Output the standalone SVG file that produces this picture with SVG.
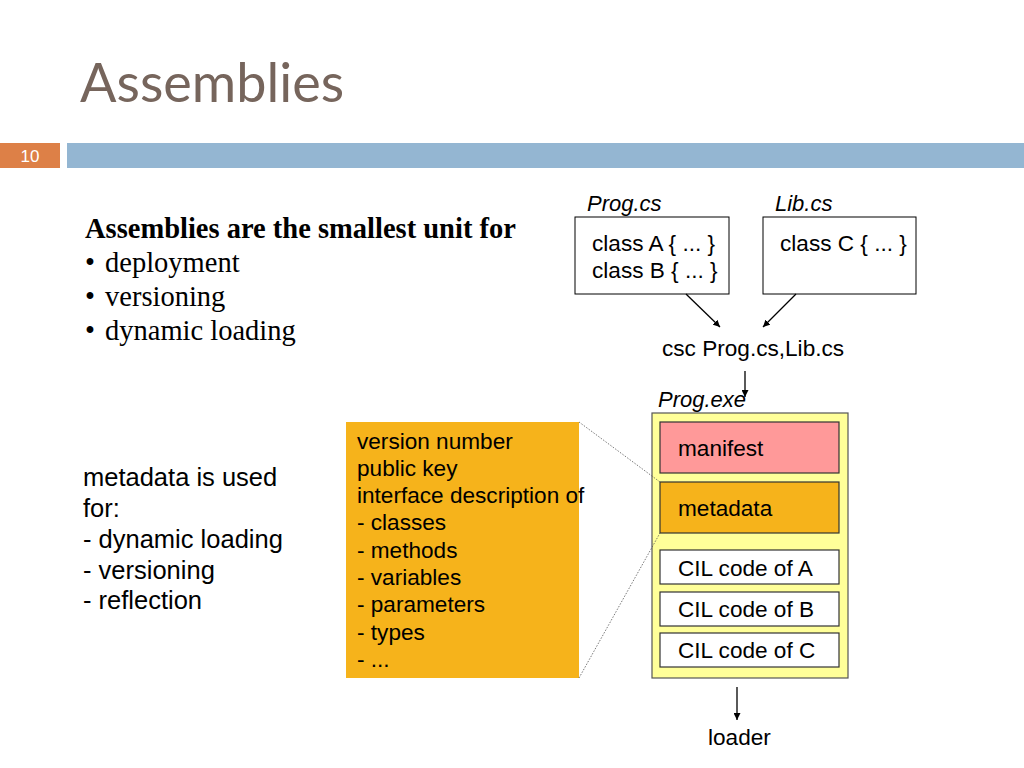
<svg xmlns="http://www.w3.org/2000/svg" width="1024" height="768" viewBox="0 0 1024 768">
<defs>
<marker id="ah" viewBox="0 0 10 10" refX="10" refY="5" markerWidth="7" markerHeight="7" orient="auto" markerUnits="userSpaceOnUse">
<path d="M0,0 L10,5 L0,10 z" fill="#000"/>
</marker>
<style>
.s{font-family:"Liberation Sans",Arial,sans-serif;font-size:22.6px;fill:#000}
.i{font-style:italic}
.serif{font-family:"Liberation Serif","Times New Roman",serif;font-size:28.5px;fill:#000}
.box{fill:#fff;stroke:#000;stroke-width:1}
.part{stroke:#333;stroke-width:1.2}
.conn{stroke:#000;stroke-width:1.3;fill:none;marker-end:url(#ah)}
.dot{stroke:#555;stroke-width:0.8;stroke-dasharray:1.5 1.5;fill:none}
</style>
</defs>
<rect width="1024" height="768" fill="#fff"/>
<text x="80" y="102" font-family="Lato,'Open Sans',sans-serif" font-size="54" fill="#76655c">Assemblies</text>
<rect x="0" y="143" width="60" height="25" fill="#dd8047"/>
<text x="30" y="162" text-anchor="middle" font-family="'Liberation Sans Narrow','Liberation Sans',sans-serif" font-size="17" fill="#fff">10</text>
<rect x="67" y="143" width="957" height="25" fill="#94b6d2"/>

<g id="intro">
<text class="serif" x="85" y="238" font-weight="bold">Assemblies are the smallest unit for</text>
<text class="serif" x="85" y="272">•</text><text class="serif" x="105" y="272">deployment</text>
<text class="serif" x="85" y="306">•</text><text class="serif" x="105" y="306">versioning</text>
<text class="serif" x="85" y="340">•</text><text class="serif" x="105" y="340">dynamic loading</text>
</g>

<g id="metadata-use" class="s" style="font-size:25.5px">
<text x="83" y="486">metadata is used</text>
<text x="83" y="517">for:</text>
<text x="83" y="548">- dynamic loading</text>
<text x="83" y="579">- versioning</text>
<text x="83" y="609">- reflection</text>
</g>

<g id="prog-cs">
<text class="s i" x="587" y="211" style="font-size:22px">Prog.cs</text>
<rect class="box" x="575" y="217" width="154" height="77"/>
<text class="s" x="592" y="251">class A { ... }</text>
<text class="s" x="592" y="278">class B { ... }</text>
</g>
<g id="lib-cs">
<text class="s i" x="775" y="211" style="font-size:22px">Lib.cs</text>
<rect class="box" x="763" y="217" width="153" height="77"/>
<text class="s" x="780" y="251">class C { ... }</text>
</g>
<g id="csc">
<text class="s" x="662" y="356">csc Prog.cs,Lib.cs</text>
</g>

<g id="details">
<rect x="346" y="422" width="233" height="256" fill="#f6b31b"/>
<g class="s">
<text x="357" y="449">version number</text>
<text x="357" y="476">public key</text>
<text x="357" y="503">interface description of</text>
<text x="357" y="530">- classes</text>
<text x="357" y="558">- methods</text>
<text x="357" y="585">- variables</text>
<text x="357" y="612">- parameters</text>
<text x="357" y="640">- types</text>
<text x="357" y="667">- ...</text>
</g>
</g>

<g id="prog-exe">
<text class="s i" x="658" y="407" style="font-size:22px">Prog.exe</text>
<rect x="652" y="413" width="196" height="265" fill="#ffff99" stroke="#555" stroke-width="1.2"/>
<g id="manifest"><rect class="part" x="660" y="422" width="179" height="51" fill="#ff9999"/><text class="s" x="678" y="456">manifest</text></g>
<g id="metadata"><rect class="part" x="660" y="482" width="179" height="51" fill="#f6b31b"/><text class="s" x="678" y="516">metadata</text></g>
<g id="cil-a"><rect class="part" x="660" y="550" width="179" height="34" fill="#fff"/><text class="s" x="678" y="576">CIL code of A</text></g>
<g id="cil-b"><rect class="part" x="660" y="592" width="179" height="34" fill="#fff"/><text class="s" x="678" y="617">CIL code of B</text></g>
<g id="cil-c"><rect class="part" x="660" y="633" width="179" height="34" fill="#fff"/><text class="s" x="678" y="658">CIL code of C</text></g>
</g>

<g id="loader">
<text class="s" x="708" y="745">loader</text>
</g>

<g id="connectors">
<line class="conn" x1="686" y1="294" x2="720" y2="327"/>
<line class="conn" x1="796" y1="294" x2="763" y2="327"/>
<line class="conn" x1="745" y1="371" x2="745" y2="397"/>
<line class="conn" x1="737" y1="687" x2="737" y2="720"/>
<line class="dot" x1="579" y1="422" x2="660" y2="482"/>
<line class="dot" x1="579" y1="678" x2="660" y2="533"/>
</g>
</svg>
